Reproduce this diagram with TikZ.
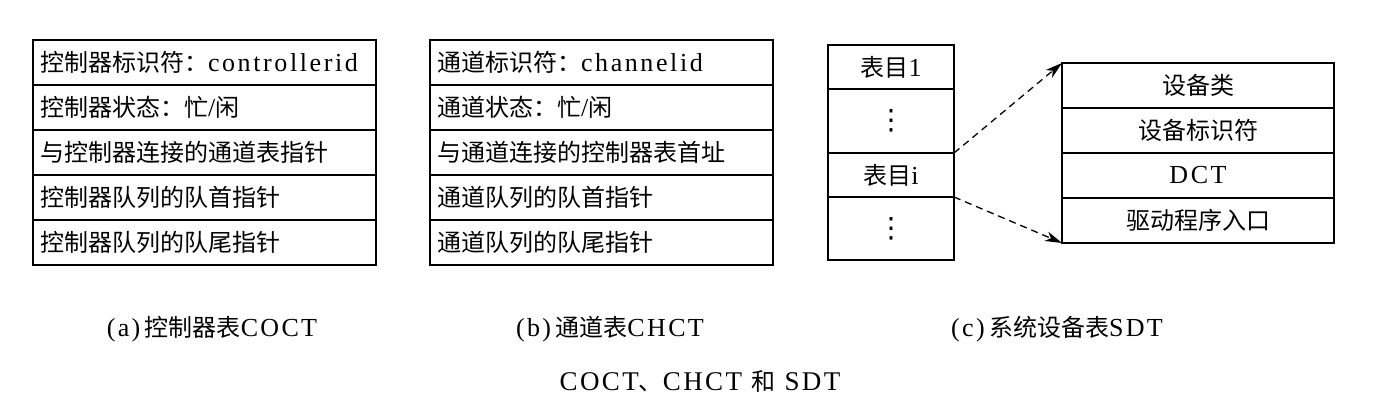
\documentclass[tikz,border=0pt]{standalone}
\usepackage{fontspec}
\setmainfont{Liberation Serif}[LetterSpace=10]
\newfontfamily\cjk{Noto Sans CJK SC}
\newfontfamily\symfont{DejaVu Sans}
\newfontfamily\capfont{Liberation Serif}[LetterSpace=9]
\usetikzlibrary{arrows.meta}
\newcommand\zh[1]{{\cjk\fontsize{24}{28}\selectfont #1}}
\newcommand\tabfont{\fontsize{26}{28}\selectfont}
\newcommand\capsize{\fontsize{26}{30}\selectfont}
\newcommand\vdotsbig{{\symfont\fontsize{28}{28}\selectfont ⋮}}
\tikzset{
  cellL/.style={draw, line width=1.5pt, outer sep=0pt, anchor=north west,
    minimum height=45pt, text width=329pt, inner xsep=7pt, inner ysep=0pt,
    align=left, font=\tabfont},
  cellC/.style={draw, line width=1.5pt, outer sep=0pt, anchor=north west,
    minimum width=#1, inner sep=0pt, align=center, font=\tabfont},
  link/.style={line width=1.3pt, dash pattern=on 7pt off 5pt,
    -{Stealth[length=17pt,width=10pt,inset=5pt]}},
  caption/.style={font=\capsize\capfont, inner sep=0pt}
}
\begin{document}
\begin{tikzpicture}[x=1pt,y=-1pt]
\useasboundingbox (0,0) rectangle (1391,418);
% (a) COCT
\node[cellL] (a1) at (33,40)  {\zh{控制器标识符：}controllerid};
\node[cellL] (a2) at (33,85)  {\zh{控制器状态：忙}/\zh{闲}};
\node[cellL] (a3) at (33,130) {\zh{与控制器连接的通道表指针}};
\node[cellL] (a4) at (33,175) {\zh{控制器队列的队首指针}};
\node[cellL] (a5) at (33,220) {\zh{控制器队列的队尾指针}};
% (b) CHCT
\node[cellL] (b1) at (430,40)  {\zh{通道标识符：}channelid};
\node[cellL] (b2) at (430,85)  {\zh{通道状态：忙}/\zh{闲}};
\node[cellL] (b3) at (430,130) {\zh{与通道连接的控制器表首址}};
\node[cellL] (b4) at (430,175) {\zh{通道队列的队首指针}};
\node[cellL] (b5) at (430,220) {\zh{通道队列的队尾指针}};
% (c) SDT
\node[cellC=126pt, minimum height=44pt] (c1) at (828,45)  {\zh{表目}1};
\node[cellC=126pt, minimum height=64pt] (c2) at (828,89)  {\vdotsbig};
\node[cellC=126pt, minimum height=44pt] (c3) at (828,153) {\zh{表目}i};
\node[cellC=126pt, minimum height=63pt] (c4) at (828,197) {\vdotsbig};
\node[cellC=272pt, minimum height=45pt] (d1) at (1062,63)  {\zh{设备类}};
\node[cellC=272pt, minimum height=45pt] (d2) at (1062,108) {\zh{设备标识符}};
\node[cellC=272pt, minimum height=45pt] (d3) at (1062,153) {DCT};
\node[cellC=272pt, minimum height=45pt] (d4) at (1062,198) {\zh{驱动程序入口}};
\draw[link] (c3.north east) -- (d1.north west);
\draw[link] (c3.south east) -- (d4.south west);
% captions
\node[caption] (capa) at (212,329) {(a)\,\zh{控制器表}COCT};
\node[caption] (capb) at (610,329) {(b)\,\zh{通道表}CHCT};
\node[caption] (capc) at (1057,329) {(c)\,\zh{系统设备表}SDT};
\node[caption, font=\fontsize{27}{30}\selectfont\capfont] (title) at (700,381) {COCT\zh{、}CHCT \zh{和} SDT};
\end{tikzpicture}
\end{document}
